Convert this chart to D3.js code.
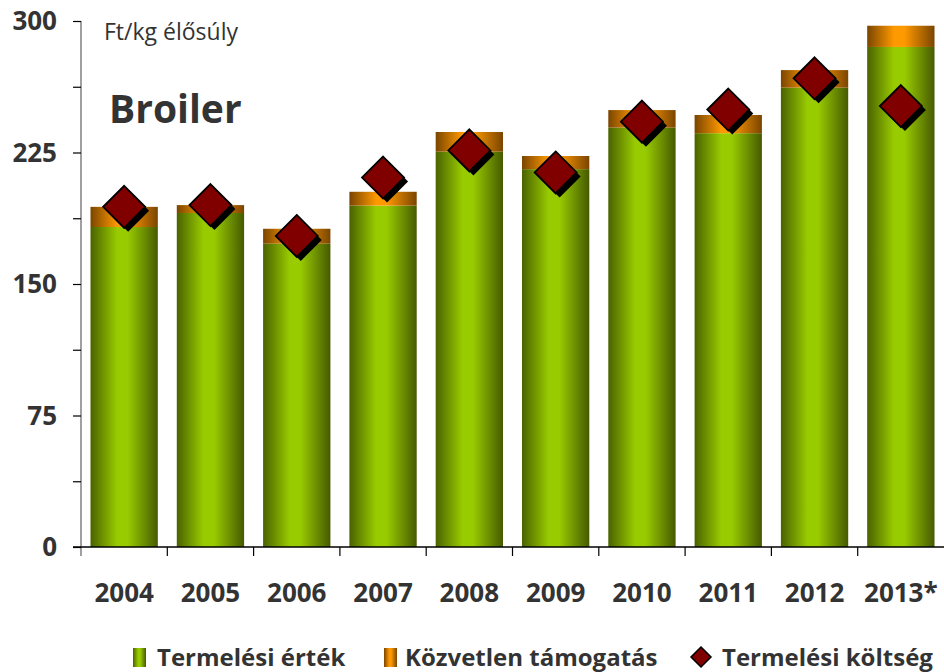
<!DOCTYPE html>
<html>
<head>
<meta charset="utf-8">
<script src="https://cdn.jsdelivr.net/npm/d3@7"></script>
<style>
  body { margin: 0; background: #fff; }
  text { font-family: "Open Sans", sans-serif; fill: #333; }
</style>
</head>
<body>
<div id="chart"></div>
<script>
// data (Ft/kg élősúly)
var years = ["2004", "2005", "2006", "2007", "2008", "2009", "2010", "2011", "2012", "2013*"]
var termelesiErtek = [182.5, 190.5, 173, 194.7, 225.5, 215.5, 239.2, 236, 262, 285.2]
var kozvetlenTamogatas = [11.5, 4.5, 8.5, 7.9, 11.2, 7.5, 10, 10.4, 10, 12.1]
var termelesiKoltseg = [194, 195, 177.4, 210.7, 226.2, 213.6, 242.6, 249.5, 267.3, 251.5]
var yTicks = [0, 37.5, 75, 112.5, 150, 187.5, 225, 262.5, 300]

var svgWidth = 944
var svgHeight = 672

var svg = d3.select("#chart")
    .append("svg")
    .attr("width", svgWidth)
    .attr("height", svgHeight)

var defs = svg.append("defs")

function barGradient(id, dark, light, dark2) {
    var g = defs.append("linearGradient")
        .attr("id", id)
        .attr("x1", "0%").attr("x2", "100%")
        .attr("y1", "0%").attr("y2", "0%")
    g.append("stop").attr("offset", "0%").attr("stop-color", dark)
    g.append("stop").attr("offset", "40%").attr("stop-color", light)
    g.append("stop").attr("offset", "55%").attr("stop-color", light)
    g.append("stop").attr("offset", "100%").attr("stop-color", dark2)
}
barGradient("green", "#4a6200", "#99cc00", "#465a00")
barGradient("orange", "#7a4500", "#ff9900", "#7a4500")

var x = d3.scaleBand()
    .domain(years)
    .range([81, 944])
    .paddingInner(0.22)
    .paddingOuter(0.11)

var y = d3.scaleLinear()
    .domain([0, 300])
    .range([547, 21])

var rows = years.map(function (yr, i) {
    return {
        year: yr,
        ertek: termelesiErtek[i],
        tam: kozvetlenTamogatas[i],
        kolt: termelesiKoltseg[i]
    }
})

// bars
svg.selectAll(".ertek")
    .data(rows)
    .enter()
    .append("rect")
    .attr("x", d => x(d.year))
    .attr("width", x.bandwidth())
    .attr("y", d => y(d.ertek))
    .attr("height", d => y(0) - y(d.ertek))
    .attr("fill", "url(#green)")

svg.selectAll(".tam")
    .data(rows)
    .enter()
    .append("rect")
    .attr("x", d => x(d.year))
    .attr("width", x.bandwidth())
    .attr("y", d => y(d.ertek + d.tam))
    .attr("height", d => y(d.ertek) - y(d.ertek + d.tam))
    .attr("fill", "url(#orange)")

// y axis
var yAxis = svg.append("g")
    .attr("transform", "translate(81,0)")
    .call(d3.axisLeft(y).tickValues(yTicks).tickSize(8).tickFormat(""))
yAxis.select(".domain").attr("stroke", "#808080").attr("stroke-width", 1.5)
    .attr("d", "M0," + y(300) + "V" + (y(0) + 9))
yAxis.selectAll(".tick line").attr("stroke", "#000").attr("stroke-width", 1.2)

svg.selectAll(".ylabel")
    .data(yTicks.filter(t => t % 75 === 0))
    .enter()
    .append("text")
    .attr("x", 57)
    .attr("y", d => y(d) + 9)
    .attr("text-anchor", "end")
    .attr("font-size", "26px")
    .attr("font-weight", "bold")
    .text(d => d)

// x axis
var xAxis = svg.append("g")
    .attr("transform", "translate(0," + y(0) + ")")
    .call(d3.axisBottom(x).tickSize(0).tickFormat(""))
xAxis.select(".domain").attr("stroke", "#000").attr("stroke-width", 1.5)
    .attr("d", "M73,0H944")
var step = x.step()
svg.selectAll(".xtick")
    .data(years.slice(1))
    .enter()
    .append("line")
    .attr("x1", d => x(d) - step * 0.11)
    .attr("x2", d => x(d) - step * 0.11)
    .attr("y1", y(0))
    .attr("y2", y(0) + 9)
    .attr("stroke", "#000")
    .attr("stroke-width", 1.2)

svg.selectAll(".xlabel")
    .data(years)
    .enter()
    .append("text")
    .attr("x", d => x(d) + x.bandwidth() / 2)
    .attr("y", 602)
    .attr("text-anchor", "middle")
    .attr("font-size", "26px")
    .attr("font-weight", "bold")
    .text(d => d)

// diamonds
var half = 21
function diamond(cx, cy, h) {
    return "M" + cx + "," + (cy - h) + "L" + (cx + h) + "," + cy +
        "L" + cx + "," + (cy + h) + "L" + (cx - h) + "," + cy + "Z"
}
svg.selectAll(".shadow")
    .data(rows)
    .enter()
    .append("path")
    .attr("d", d => diamond(x(d.year) + x.bandwidth() / 2 + 4, y(d.kolt) + 4, half))
    .attr("fill", "#000")
svg.selectAll(".kolt")
    .data(rows)
    .enter()
    .append("path")
    .attr("d", d => diamond(x(d.year) + x.bandwidth() / 2, y(d.kolt), half))
    .attr("fill", "#800000")
    .attr("stroke", "#000")
    .attr("stroke-width", 1.8)

// titles
svg.append("text")
    .attr("x", 104)
    .attr("y", 40)
    .attr("font-size", "23px")
    .text("Ft/kg élősúly")
svg.append("text")
    .attr("x", 109)
    .attr("y", 123)
    .attr("font-size", "39px")
    .attr("font-weight", "bold")
    .text("Broiler")

// legend
var legend = svg.append("g")
legend.append("rect").attr("x", 133).attr("y", 648).attr("width", 13).attr("height", 19).attr("fill", "url(#green)")
legend.append("text").attr("x", 157).attr("y", 666).attr("font-size", "24px").attr("font-weight", "bold").text("Termelési érték")
legend.append("rect").attr("x", 384).attr("y", 648).attr("width", 13).attr("height", 19).attr("fill", "url(#orange)")
legend.append("text").attr("x", 405).attr("y", 666).attr("font-size", "24px").attr("font-weight", "bold").text("Közvetlen támogatás")
legend.append("path").attr("d", diamond(701, 657, 10)).attr("fill", "#800000").attr("stroke", "#000").attr("stroke-width", 1.5)
legend.append("text").attr("x", 722).attr("y", 666).attr("font-size", "24px").attr("font-weight", "bold").text("Termelési költség")
</script>
</body>
</html>
